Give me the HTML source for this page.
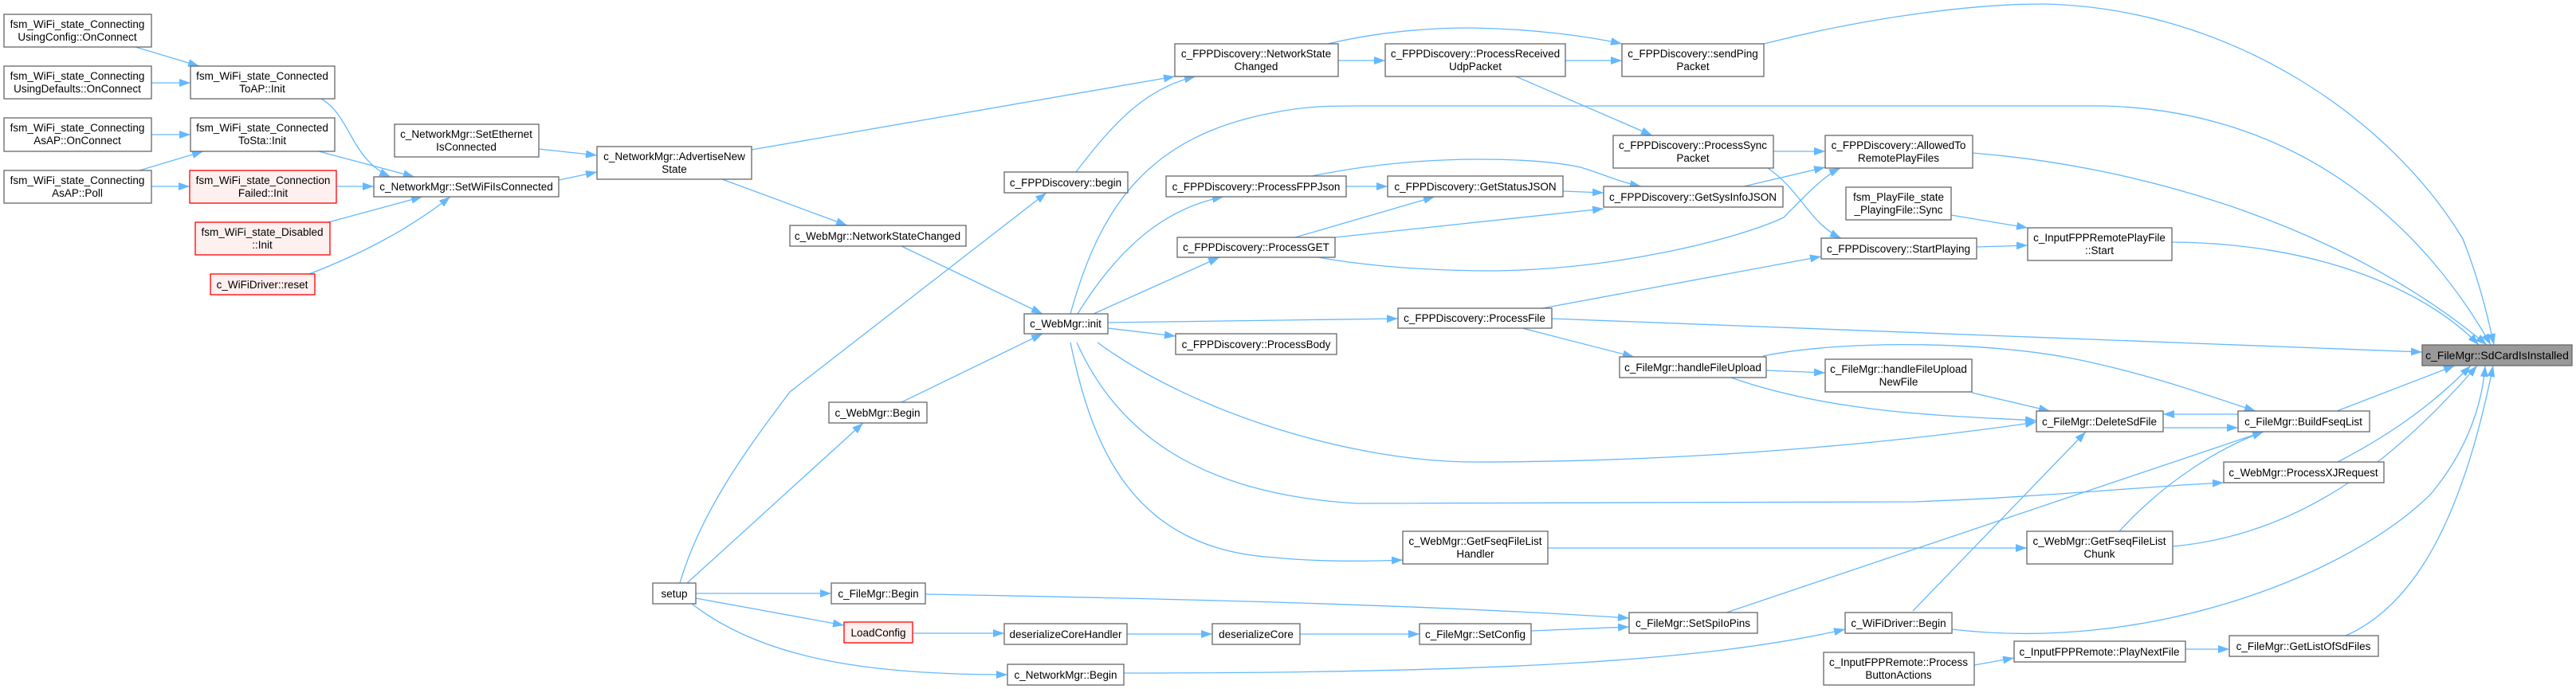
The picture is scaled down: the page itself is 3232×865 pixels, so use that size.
<!DOCTYPE html>
<html><head><meta charset="utf-8"><style>
html,body{margin:0;padding:0;background:#fff;}
svg{display:block;}
text{font-family:"Liberation Sans",Arial,sans-serif;font-size:13.5px;fill:#000;text-anchor:middle;}
.n{fill:#fff;stroke:#666;stroke-width:1.3;}
.r{fill:#fff0f0;stroke:#ff0000;stroke-width:1.3;}
.g{fill:#999;stroke:#666;stroke-width:1.3;}
path{fill:none;stroke:#63b8ff;stroke-width:1.3;marker-end:url(#a);}
</style></head><body>
<svg width="3232" height="865" viewBox="0 0 3232 865" xmlns="http://www.w3.org/2000/svg">
<defs><marker id="a" markerUnits="userSpaceOnUse" markerWidth="14" markerHeight="10" refX="14" refY="5" orient="auto"><polygon points="0,0 14,5 0,10" fill="#63b8ff"/></marker></defs>

<!-- edges -->
<path d="M170,59 L250,83"/>
<path d="M190,104 L239,104"/>
<path d="M190,169 L239,169"/>
<path d="M175,214 L255,190"/>
<path d="M190,234 L238,234"/>
<path d="M403,124 C440,145 440,200 490,222"/>
<path d="M400,190 L520,222"/>
<path d="M422,234 L469,234"/>
<path d="M412,279 L530,247"/>
<path d="M388,344 C450,320 510,290 565,247"/>
<path d="M676,187 L749,195"/>
<path d="M701,226 L749,216"/>
<path d="M943,188 L1474,96"/>
<path d="M906,225 L1063,283"/>
<path d="M1131,309 L1308,394"/>
<path d="M1350,216 C1400,150 1440,110 1500,96"/>
<path d="M853,732 C880,640 940,560 991,492 L1313,242"/>
<path d="M862,732 L1083,531"/>
<path d="M873,745 L1043,745"/>
<path d="M873,751 L1059,785"/>
<path d="M868,758 C960,830 1100,847 1264,847"/>
<path d="M1131,505 L1308,419"/>
<path d="M1145,795 L1260,795"/>
<path d="M1414,796 L1521,796"/>
<path d="M1631,796 L1781,796"/>
<path d="M1921,792 L2044,787"/>
<path d="M1161,746 C1500,752 1800,760 2044,776"/>
<path d="M1410,845 C1900,845 2150,828 2315,790"/>
<path d="M1352,394 C1410,300 1470,260 1535,247"/>
<path d="M1372,394 L1530,323"/>
<path d="M1390,405 L1754,400"/>
<path d="M1390,412 L1475,422"/>
<path d="M1343,394 C1380,260 1440,170 1600,141 C1640,133 1670,133 1700,133 L2640,133 C2900,140 3050,300 3125,433"/>
<path d="M1377,430 C1500,520 1700,580 1850,580 C2100,580 2350,560 2555,530"/>
<path d="M1351,430 C1400,540 1500,620 1702,632 L2400,630 C2550,625 2700,610 2790,606"/>
<path d="M1343,430 C1370,560 1420,690 1600,700 C1650,705 1710,705 1760,703"/>
<path d="M1910,412 L2050,448"/>
<path d="M2212,447 C2320,425 2500,430 2600,450 C2700,470 2780,500 2830,516"/>
<path d="M2169,473 C2300,520 2450,522 2555,528"/>
<path d="M2216,465 L2290,468"/>
<path d="M2474,493 L2572,516"/>
<path d="M2808,520 L2714,520"/>
<path d="M2714,537 L2808,537"/>
<path d="M2932,516 L3080,459"/>
<path d="M2166,769 L2840,542"/>
<path d="M2400,767 L2617,542"/>
<path d="M1942,688 L2543,688"/>
<path d="M2659,667 C2720,600 2790,560 2840,542"/>
<path d="M2726,686 C2900,670 3020,560 3108,459"/>
<path d="M2933,580 C3010,540 3060,500 3100,459"/>
<path d="M2449,790 C2700,820 2950,720 3050,620 C3100,560 3115,500 3118,459"/>
<path d="M2943,798 C3030,760 3090,650 3128,459"/>
<path d="M2742,815 L2797,815"/>
<path d="M2477,835 L2527,826"/>
<path d="M2213,55 C2350,20 2480,5 2564,5 C2800,10 3000,150 3090,300 C3110,350 3122,400 3129,433"/>
<path d="M1666,55 C1730,40 1790,35 1845,35 C1920,36 1990,45 2035,55"/>
<path d="M1679,76 L1738,76"/>
<path d="M1964,76 L2035,76"/>
<path d="M1902,96 L2073,170"/>
<path d="M2225,190 L2290,190"/>
<path d="M2218,211 C2260,240 2270,280 2310,299"/>
<path d="M2188,234 L2290,210"/>
<path d="M1654,323 C1720,335 1800,340 1875,340 C2030,338 2180,300 2238,273 C2270,240 2290,220 2309,211"/>
<path d="M1689,234 L1741,234"/>
<path d="M1646,221 C1720,206 1790,200 1855,200 C1920,200 1960,205 1983,210 C2010,218 2030,228 2059,234"/>
<path d="M1961,240 L2012,242"/>
<path d="M1625,298 L1800,247"/>
<path d="M1675,298 L2012,262"/>
<path d="M1935,387 L2285,322"/>
<path d="M2475,192 C2700,210 2950,290 3120,433"/>
<path d="M2448,270 L2544,286"/>
<path d="M2480,310 L2544,308"/>
<path d="M2725,304 C2900,305 3040,360 3110,433"/>
<path d="M1947,400 L3039,442"/>

<!-- nodes -->
<rect class="n" x="5" y="18" width="185" height="41"/><text x="97" y="35">fsm_WiFi_state_Connecting</text><text x="97" y="51">UsingConfig::OnConnect</text>
<rect class="n" x="5" y="83" width="185" height="41"/><text x="97" y="100">fsm_WiFi_state_Connecting</text><text x="97" y="116">UsingDefaults::OnConnect</text>
<rect class="n" x="5" y="148" width="185" height="42"/><text x="97" y="165">fsm_WiFi_state_Connecting</text><text x="97" y="181">AsAP::OnConnect</text>
<rect class="n" x="5" y="214" width="185" height="41"/><text x="97" y="231">fsm_WiFi_state_Connecting</text><text x="97" y="247">AsAP::Poll</text>
<rect class="n" x="239" y="83" width="181" height="41"/><text x="329" y="100">fsm_WiFi_state_Connected</text><text x="329" y="116">ToAP::Init</text>
<rect class="n" x="239" y="148" width="181" height="42"/><text x="329" y="165">fsm_WiFi_state_Connected</text><text x="329" y="181">ToSta::Init</text>
<rect class="r" x="238" y="214" width="184" height="41"/><text x="330" y="231">fsm_WiFi_state_Connection</text><text x="330" y="247">Failed::Init</text>
<rect class="r" x="245" y="279" width="169" height="41"/><text x="329" y="296">fsm_WiFi_state_Disabled</text><text x="329" y="312">::Init</text>
<rect class="r" x="264" y="344" width="131" height="26"/><text x="329" y="362">c_WiFiDriver::reset</text>
<rect class="n" x="495" y="156" width="181" height="41"/><text x="585" y="173">c_NetworkMgr::SetEthernet</text><text x="585" y="189">IsConnected</text>
<rect class="n" x="469" y="222" width="232" height="25"/><text x="585" y="239">c_NetworkMgr::SetWiFiIsConnected</text>
<rect class="n" x="749" y="184" width="194" height="41"/><text x="846" y="201">c_NetworkMgr::AdvertiseNew</text><text x="846" y="217">State</text>
<rect class="n" x="1474" y="55" width="205" height="41"/><text x="1576" y="72">c_FPPDiscovery::NetworkState</text><text x="1576" y="88">Changed</text>
<rect class="n" x="1260" y="216" width="155" height="26"/><text x="1337" y="234">c_FPPDiscovery::begin</text>
<rect class="n" x="991" y="283" width="221" height="26"/><text x="1101" y="301">c_WebMgr::NetworkStateChanged</text>
<rect class="n" x="1285" y="394" width="105" height="25"/><text x="1337" y="411">c_WebMgr::init</text>
<rect class="n" x="1463" y="221" width="226" height="26"/><text x="1576" y="239">c_FPPDiscovery::ProcessFPPJson</text>
<rect class="n" x="1477" y="298" width="198" height="25"/><text x="1576" y="315">c_FPPDiscovery::ProcessGET</text>
<rect class="n" x="1475" y="419" width="202" height="26"/><text x="1576" y="437">c_FPPDiscovery::ProcessBody</text>
<rect class="n" x="1040" y="505" width="123" height="26"/><text x="1101" y="523">c_WebMgr::Begin</text>
<rect class="n" x="819" y="732" width="54" height="26"/><text x="846" y="750">setup</text>
<rect class="n" x="1043" y="732" width="118" height="26"/><text x="1102" y="750">c_FileMgr::Begin</text>
<rect class="r" x="1059" y="781" width="86" height="26"/><text x="1102" y="799">LoadConfig</text>
<rect class="n" x="1260" y="783" width="154" height="26"/><text x="1337" y="801">deserializeCoreHandler</text>
<rect class="n" x="1521" y="783" width="110" height="26"/><text x="1576" y="801">deserializeCore</text>
<rect class="n" x="1264" y="834" width="146" height="26"/><text x="1337" y="852">c_NetworkMgr::Begin</text>
<rect class="n" x="1738" y="55" width="226" height="41"/><text x="1851" y="72">c_FPPDiscovery::ProcessReceived</text><text x="1851" y="88">UdpPacket</text>
<rect class="n" x="2035" y="55" width="178" height="41"/><text x="2124" y="72">c_FPPDiscovery::sendPing</text><text x="2124" y="88">Packet</text>
<rect class="n" x="2024" y="170" width="201" height="41"/><text x="2124" y="187">c_FPPDiscovery::ProcessSync</text><text x="2124" y="203">Packet</text>
<rect class="n" x="2290" y="170" width="185" height="41"/><text x="2382" y="187">c_FPPDiscovery::AllowedTo</text><text x="2382" y="203">RemotePlayFiles</text>
<rect class="n" x="1741" y="221" width="220" height="26"/><text x="1851" y="239">c_FPPDiscovery::GetStatusJSON</text>
<rect class="n" x="2012" y="234" width="225" height="26"/><text x="2124" y="252">c_FPPDiscovery::GetSysInfoJSON</text>
<rect class="n" x="2316" y="235" width="132" height="41"/><text x="2382" y="252">fsm_PlayFile_state</text><text x="2382" y="268">_PlayingFile::Sync</text>
<rect class="n" x="2285" y="299" width="195" height="26"/><text x="2382" y="317">c_FPPDiscovery::StartPlaying</text>
<rect class="n" x="1754" y="387" width="193" height="25"/><text x="1850" y="404">c_FPPDiscovery::ProcessFile</text>
<rect class="n" x="2032" y="448" width="184" height="26"/><text x="2124" y="466">c_FileMgr::handleFileUpload</text>
<rect class="n" x="2290" y="451" width="184" height="41"/><text x="2382" y="468">c_FileMgr::handleFileUpload</text><text x="2382" y="484">NewFile</text>
<rect class="n" x="1760" y="667" width="182" height="41"/><text x="1851" y="684">c_WebMgr::GetFseqFileList</text><text x="1851" y="700">Handler</text>
<rect class="n" x="2044" y="769" width="161" height="26"/><text x="2124" y="787">c_FileMgr::SetSpiIoPins</text>
<rect class="n" x="1781" y="783" width="140" height="26"/><text x="1851" y="801">c_FileMgr::SetConfig</text>
<rect class="n" x="2315" y="769" width="134" height="26"/><text x="2382" y="787">c_WiFiDriver::Begin</text>
<rect class="n" x="2288" y="819" width="189" height="41"/><text x="2382" y="836">c_InputFPPRemote::Process</text><text x="2382" y="852">ButtonActions</text>
<rect class="g" x="3039" y="433" width="188" height="26"/><text x="3133" y="451" style="font-size:14px">c_FileMgr::SdCardIsInstalled</text>
<rect class="n" x="2555" y="516" width="159" height="26"/><text x="2634" y="534">c_FileMgr::DeleteSdFile</text>
<rect class="n" x="2808" y="516" width="165" height="26"/><text x="2890" y="534">c_FileMgr::BuildFseqList</text>
<rect class="n" x="2790" y="580" width="201" height="26"/><text x="2890" y="598">c_WebMgr::ProcessXJRequest</text>
<rect class="n" x="2543" y="667" width="183" height="41"/><text x="2634" y="684">c_WebMgr::GetFseqFileList</text><text x="2634" y="700">Chunk</text>
<rect class="n" x="2527" y="805" width="215" height="26"/><text x="2634" y="823">c_InputFPPRemote::PlayNextFile</text>
<rect class="n" x="2797" y="798" width="187" height="26"/><text x="2890" y="816">c_FileMgr::GetListOfSdFiles</text>
<rect class="n" x="2544" y="286" width="181" height="41"/><text x="2634" y="303">c_InputFPPRemotePlayFile</text><text x="2634" y="319">::Start</text>
</svg>
</body></html>
